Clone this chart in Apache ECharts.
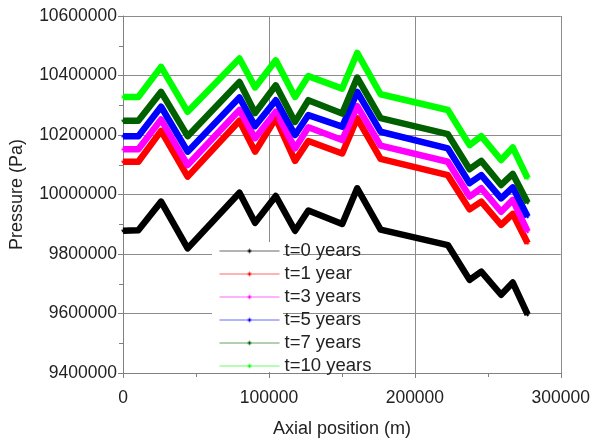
<!DOCTYPE html>
<html>
<head>
<meta charset="utf-8">
<script src="https://cdn.jsdelivr.net/npm/echarts@6/dist/echarts.min.js"></script>
<style>
html,body{margin:0;padding:0;background:#fff;}
#chart{width:593px;height:443px;}
</style>
</head>
<body>
<div id="chart"></div>
<script>
// Axial positions (m)
var positions = [0, 10500, 26100, 44300, 79800, 90500, 104700, 117900, 127000, 150200, 160500, 176500, 222600, 237500, 245500, 259100, 267100, 277300];
// Pressure (Pa) per time
var t0  = [9878000, 9880000, 9976000, 9819000, 10006000, 9905000, 9995000, 9878000, 9946000, 9901000, 10021000, 9882000, 9830000, 9713000, 9741000, 9663000, 9704000, 9596000];
var t1  = [10110000, 10110000, 10214000, 10060000, 10248000, 10144000, 10256000, 10113000, 10180000, 10138000, 10256000, 10120000, 10065000, 9950000, 9976000, 9898000, 9935000, 9836000];
var t3  = [10152000, 10152000, 10252000, 10099000, 10284000, 10189000, 10278000, 10155000, 10226000, 10183000, 10297000, 10164000, 10110000, 9993000, 10021000, 9942000, 9982000, 9875000];
var t5  = [10196000, 10196000, 10295000, 10144000, 10326000, 10230000, 10317000, 10200000, 10267000, 10228000, 10345000, 10211000, 10155000, 10038000, 10065000, 9987000, 10024000, 9925000];
var t7  = [10248000, 10248000, 10345000, 10196000, 10378000, 10274000, 10367000, 10244000, 10317000, 10272000, 10393000, 10257000, 10203000, 10085000, 10113000, 10032000, 10069000, 9972000];
var t10 = [10328000, 10328000, 10429000, 10278000, 10457000, 10360000, 10451000, 10328000, 10398000, 10356000, 10476000, 10337000, 10284000, 10166000, 10196000, 10116000, 10158000, 10054000];
var seriesNames = ['t=0 years', 't=1 year', 't=3 years', 't=5 years', 't=7 years', 't=10 years'];
var seriesValues = [t0, t1, t3, t5, t7, t10];
var seriesColors = ['#000000', '#ff0000', '#ff00ff', '#0000ff', '#006000', '#00ff00'];

var asterisk = 'path://M4.4,0h1.2v10h-1.2z M0,4.4h10v1.2h-10z M1.2,2L2,1.2L8.8,8L8,8.8z M8,1.2L8.8,2L2,8.8L1.2,8z';

function zip(xs, ys) { return xs.map(function (x, i) { return [x, ys[i]]; }); }
function plain(v) { return String(v); }

var font = 'Liberation Sans, Arial, sans-serif';
var txt = '#222';
var axisGray = '#808080';

var chart = echarts.init(document.getElementById('chart'), null, {renderer: 'canvas'});
chart.setOption({
  animation: false,
  backgroundColor: '#ffffff',
  grid: {left: 123, right: 31, top: 16, bottom: 70, containLabel: false},
  graphic: [{
    type: 'rect', z: 1, silent: true,
    shape: {x: 212, y: 242, width: 71, height: 130},
    style: {fill: '#ffffff'}
  }],
  legend: {
    orient: 'vertical',
    left: 219, top: 241.5,
    padding: 0,
    itemWidth: 60, itemHeight: 6, itemGap: 4,
    lineStyle: {width: 1},
    textStyle: {fontFamily: font, fontSize: 18.5, color: txt, padding: [0,0,0,0]},
    data: seriesNames.map(function (n, i) {
      return {name: n, lineStyle: {width: 1, color: seriesColors[i], opacity: 0.6}};
    })
  },
  xAxis: {
    type: 'value', min: 0, max: 300000, interval: 100000,
    name: 'Axial position (m)', nameLocation: 'middle', nameGap: 47,
    nameTextStyle: {fontFamily: font, fontSize: 18, color: txt},
    axisLine: {show: true, onZero: false, lineStyle: {color: axisGray, width: 1}},
    axisTick: {show: true, length: 5, lineStyle: {color: axisGray}},
    minorTick: {show: true, splitNumber: 2, length: 4, lineStyle: {color: axisGray}},
    axisLabel: {fontFamily: font, fontSize: 17.5, color: txt, margin: 16, formatter: plain},
    splitLine: {show: true, lineStyle: {color: '#8c8c8c', width: 1}}
  },
  yAxis: {
    type: 'value', min: 9400000, max: 10600000, interval: 200000,
    name: 'Pressure (Pa)', nameLocation: 'middle', nameGap: 97,
    nameTextStyle: {fontFamily: font, fontSize: 18, color: txt},
    axisLine: {show: true, onZero: false, lineStyle: {color: axisGray, width: 1}},
    axisTick: {show: true, length: 5, lineStyle: {color: axisGray}},
    minorTick: {show: true, splitNumber: 2, length: 4, lineStyle: {color: axisGray}},
    axisLabel: {fontFamily: font, fontSize: 17.5, color: txt, margin: 6, formatter: plain},
    splitLine: {show: true, lineStyle: {color: '#8c8c8c', width: 1}}
  },
  series: seriesNames.map(function (n, i) {
    return {
      name: n, type: 'line',
      data: zip(positions, seriesValues[i]),
      color: seriesColors[i],
      symbol: asterisk, symbolSize: 4, showSymbol: true,
      itemStyle: {color: seriesColors[i]},
      lineStyle: {width: 6.5, color: seriesColors[i], join: 'round'},
      emphasis: {disabled: true},
      z: 2
    };
  })
});
</script>
</body>
</html>
